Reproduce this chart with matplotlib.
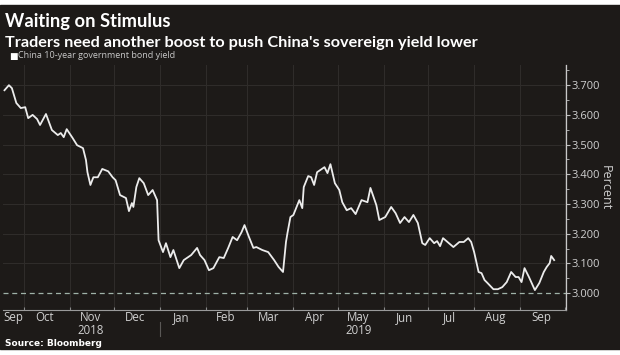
import matplotlib
matplotlib.use("Agg")
import matplotlib.pyplot as plt
import matplotlib.dates as mdates
import pandas as pd

# China 10-year government bond yield (percent)
dates = [
    "2018-09-18", "2018-09-21", "2018-09-23", "2018-09-26", "2018-09-29", "2018-10-02",
    "2018-10-04", "2018-10-07", "2018-10-10", "2018-10-12", "2018-10-16", "2018-10-20",
    "2018-10-24", "2018-10-26", "2018-10-28", "2018-10-30", "2018-11-03", "2018-11-06",
    "2018-11-10", "2018-11-12", "2018-11-13", "2018-11-15", "2018-11-17", "2018-11-20",
    "2018-11-23", "2018-11-27", "2018-11-30", "2018-12-02", "2018-12-05", "2018-12-09",
    "2018-12-11", "2018-12-13", "2018-12-14", "2018-12-16", "2018-12-18", "2018-12-21",
    "2018-12-24", "2018-12-27", "2018-12-30", "2018-12-31", "2019-01-03", "2019-01-05",
    "2019-01-08", "2019-01-10", "2019-01-14", "2019-01-17", "2019-01-22", "2019-01-26",
    "2019-01-28", "2019-01-31", "2019-02-03", "2019-02-06", "2019-02-10", "2019-02-13",
    "2019-02-16", "2019-02-19", "2019-02-22", "2019-02-25", "2019-02-27", "2019-03-02",
    "2019-03-05", "2019-03-07", "2019-03-11", "2019-03-15", "2019-03-19", "2019-03-22",
    "2019-03-25", "2019-03-27", "2019-03-28", "2019-03-30", "2019-04-01", "2019-04-05",
    "2019-04-07", "2019-04-08", "2019-04-11", "2019-04-13", "2019-04-15", "2019-04-17",
    "2019-04-22", "2019-04-24", "2019-04-26", "2019-04-29", "2019-05-02", "2019-05-04",
    "2019-05-07", "2019-05-10", "2019-05-13", "2019-05-17", "2019-05-21", "2019-05-23",
    "2019-05-27", "2019-05-29", "2019-06-02", "2019-06-06", "2019-06-09", "2019-06-12",
    "2019-06-15", "2019-06-18", "2019-06-21", "2019-06-24", "2019-06-27", "2019-06-29",
    "2019-07-02", "2019-07-05", "2019-07-07", "2019-07-09", "2019-07-11", "2019-07-14",
    "2019-07-18", "2019-07-22", "2019-07-25", "2019-07-28", "2019-07-30", "2019-08-01",
    "2019-08-04", "2019-08-06", "2019-08-08", "2019-08-10", "2019-08-14", "2019-08-17",
    "2019-08-20", "2019-08-23", "2019-08-26", "2019-08-29", "2019-08-31", "2019-09-02",
    "2019-09-04", "2019-09-07", "2019-09-11", "2019-09-14", "2019-09-17", "2019-09-19",
    "2019-09-21", "2019-09-22", "2019-09-24",
]
yields = [
    3.683, 3.700, 3.690, 3.640, 3.623, 3.626,
    3.589, 3.600, 3.586, 3.566, 3.603, 3.549,
    3.532, 3.539, 3.525, 3.552, 3.522, 3.498,
    3.488, 3.448, 3.407, 3.364, 3.390, 3.390,
    3.418, 3.410, 3.390, 3.380, 3.330, 3.320,
    3.276, 3.303, 3.290, 3.357, 3.387, 3.370,
    3.330, 3.347, 3.313, 3.178, 3.138, 3.168,
    3.121, 3.145, 3.084, 3.111, 3.128, 3.152,
    3.128, 3.111, 3.077, 3.084, 3.121, 3.118,
    3.152, 3.189, 3.178, 3.205, 3.229, 3.189,
    3.152, 3.155, 3.145, 3.138, 3.111, 3.088,
    3.071, 3.172, 3.202, 3.256, 3.263, 3.313,
    3.286, 3.357, 3.394, 3.390, 3.364, 3.407,
    3.424, 3.404, 3.434, 3.370, 3.347, 3.306,
    3.279, 3.286, 3.266, 3.313, 3.306, 3.354,
    3.296, 3.246, 3.256, 3.290, 3.269, 3.236,
    3.256, 3.239, 3.263, 3.236, 3.168, 3.162,
    3.185, 3.168, 3.175, 3.158, 3.185, 3.172,
    3.155, 3.172, 3.172, 3.185, 3.172, 3.138,
    3.071, 3.067, 3.044, 3.034, 3.013, 3.013,
    3.020, 3.037, 3.071, 3.054, 3.054, 3.037,
    3.084, 3.054, 3.010, 3.034, 3.071, 3.088,
    3.101, 3.125, 3.111,
]
month_labels = ["Sep", "Oct", "Nov", "Dec", "Jan", "Feb", "Mar", "Apr",
                "May", "Jun", "Jul", "Aug", "Sep"]
label_dates = ["2018-09-24", "2018-10-15", "2018-11-15", "2018-12-15", "2019-01-15",
               "2019-02-14", "2019-03-15", "2019-04-15", "2019-05-15", "2019-06-15",
               "2019-07-15", "2019-08-15", "2019-09-15"]
y_ticks = [3.0, 3.1, 3.2, 3.3, 3.4, 3.5, 3.6, 3.7]

BG = "#1d1a18"
GRID = "#2f2c2a"
TXT = "#d0d0d0"

x = pd.to_datetime(dates)
fig = plt.figure(figsize=(6.2, 3.55), dpi=100, facecolor="white")
# dark panel with thin white margins top and bottom
fig.patches.append(plt.Rectangle((0, 6 / 355), 1, 1 - 11 / 355,
                                 transform=fig.transFigure, color=BG, zorder=-1))

ax = fig.add_axes([3 / 620, 1 - 310 / 355, 563 / 620, 245 / 355])
ax.set_facecolor(BG)
ax.plot(x, yields, color="#ececec", lw=1.3, solid_joinstyle="round")
ax.axhline(3.0, color="#9fb2a8", lw=0.9, ls=(0, (4, 3)), zorder=1)

ax.set_xlim(pd.Timestamp("2018-09-17"), pd.Timestamp("2019-10-02"))
ax.set_ylim(2.943, 3.768)

# grid: horizontal at yticks, vertical at month starts
ax.set_yticks(y_ticks)
ax.set_yticks([v + 0.05 for v in y_ticks], minor=True)
ax.set_yticklabels([f"{v:.3f}" for v in y_ticks])
ax.yaxis.tick_right()
ax.xaxis.set_major_locator(mdates.MonthLocator())
ax.set_xticklabels([])
for v in y_ticks[1:]:
    ax.axhline(v, color=GRID, lw=0.8, zorder=0)
for d in ax.get_xticks():
    ax.axvline(d, color=GRID, lw=0.8, zorder=0)

ax.tick_params(axis="y", which="major", colors="#bdbdbd", labelcolor=TXT,
               length=3, width=0.8, labelsize=8, pad=1, direction="out")
ax.tick_params(axis="y", which="minor", colors="#bdbdbd", length=2, width=0.6)
ax.tick_params(axis="x", which="major", colors="#8a8a8a", length=2, width=0.8,
               direction="in")
for lab in ax.get_yticklabels():
    lab.set_family("Open Sans")

for s in ["top", "left"]:
    ax.spines[s].set_visible(False)
ax.spines["right"].set_color("#c8c8c8")
ax.spines["right"].set_linewidth(0.9)
ax.spines["bottom"].set_color("#9a9a9a")
ax.spines["bottom"].set_linewidth(0.8)

# month labels
xt = ax.get_xaxis_transform()
for lab, d in zip(month_labels, label_dates):
    ax.text(pd.Timestamp(d), -0.029, lab, transform=xt,
            ha="center", va="center", color=TXT, fontsize=8.3, family="Open Sans")
ax.text(pd.Timestamp("2018-11-15"), -0.083, "2018", transform=xt,
        ha="center", va="center", color=TXT, fontsize=8.3, family="Open Sans")
ax.text(pd.Timestamp("2019-05-15"), -0.083, "2019", transform=xt,
        ha="center", va="center", color=TXT, fontsize=8.3, family="Open Sans")
ax.plot([pd.Timestamp("2019-01-01")] * 2, [-0.05, -0.105], transform=xt,
        color="#5a5856", lw=0.8, clip_on=False)

ax.text(1.07, 0.5, "Percent", transform=ax.transAxes, rotation=270,
        ha="center", va="center", color=TXT, fontsize=9, family="Open Sans")

fig.text(5 / 620, 1 - 27 / 355, "Waiting on Stimulus", color="white",
         fontsize=13.2, fontweight="bold", family="Lato", va="baseline")
fig.text(5 / 620, 1 - 47 / 355,
         "Traders need another boost to push China's sovereign yield lower",
         color="white", fontsize=11.7, fontweight="bold", family="Lato", va="baseline")
fig.text(9 / 620, 1 - 56 / 355, "\u25a0", color="white", fontsize=6.5,
         family="DejaVu Sans", va="center")
fig.text(18 / 620, 1 - 56 / 355, "China 10-year government bond yield",
         color="#c8c8c8", fontsize=6.5, family="Open Sans", va="center")
fig.text(5 / 620, 1 - 343 / 355, "Source: Bloomberg", color="white",
         fontsize=6.5, fontweight="bold", family="DejaVu Sans", va="center")

fig.savefig("out.png", dpi=100, facecolor="white")
